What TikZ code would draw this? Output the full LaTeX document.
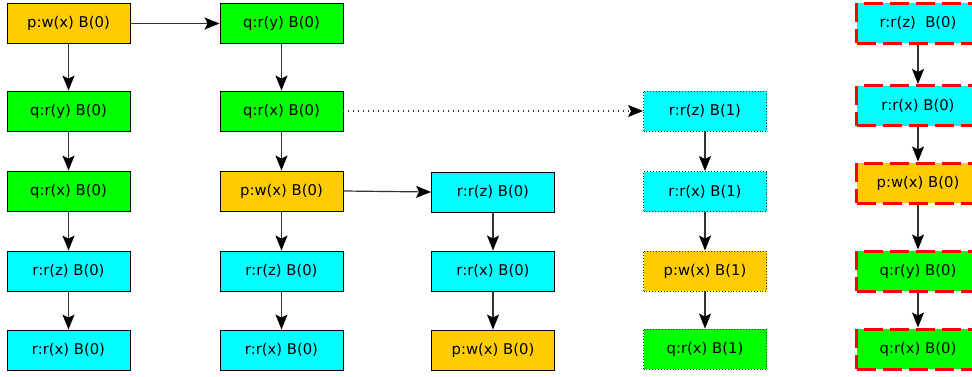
\documentclass[tikz,border=0pt]{standalone}
\usepackage{fontspec}
\setmainfont{DejaVu Sans}
\usetikzlibrary{arrows.meta}
\definecolor{wcol}{RGB}{255,204,0}
\definecolor{qcol}{RGB}{0,255,0}
\definecolor{rcol}{RGB}{0,255,255}
\definecolor{hl}{RGB}{255,0,0}
\tikzset{
  evt/.style={draw=black, line width=0.9pt, minimum width=123pt, minimum height=40pt,
    inner sep=0pt, font=\fontsize{14.8}{16}\selectfont},
  wr/.style={evt, fill=wcol},
  rq/.style={evt, fill=qcol},
  rr/.style={evt, fill=rcol},
  ghost/.style={draw=black!80, dotted, line width=0.9pt},
  flagged/.style={draw=hl, line width=3pt, dash pattern=on 19pt off 7pt},
  flow/.style={-{Stealth[length=15pt,width=12pt,inset=3pt,black,sharp]}, line width=1.2pt, draw=black!80},
}
\begin{document}
\begin{tikzpicture}[x=1pt, y=-1pt]
\useasboundingbox (0,0) rectangle (972,376);
% first execution
\node[wr] (a1) at (68.5,23.5) {p:w(x) B(0)};
\node[rq] (a2) at (68.5,111) {q:r(y) B(0)};
\node[rq] (a3) at (68.5,191) {q:r(x) B(0)};
\node[rr] (a4) at (68.5,271) {r:r(z) B(0)};
\node[rr] (a5) at (68.5,350) {r:r(x) B(0)};
% second execution
\node[rq] (b1) at (281.5,23.5) {q:r(y) B(0)};
\node[rq] (b2) at (281.5,111) {q:r(x) B(0)};
\node[wr] (b3) at (281.5,191) {p:w(x) B(0)};
\node[rr] (b4) at (281.5,271) {r:r(z) B(0)};
\node[rr] (b5) at (281.5,350) {r:r(x) B(0)};
% third execution
\node[rr] (c3) at (493,192) {r:r(z) B(0)};
\node[rr] (c4) at (493,271) {r:r(x) B(0)};
\node[wr] (c5) at (493,350) {p:w(x) B(0)};
% next round
\node[rr, ghost] (d2) at (705,111) {r:r(z) B(1)};
\node[rr, ghost] (d3) at (705,191.5) {r:r(x) B(1)};
\node[wr, ghost] (d4) at (705,271) {p:w(x) B(1)};
\node[rq, ghost] (d5) at (705,349) {q:r(x) B(1)};
% flagged execution
\node[rr, flagged] (e1) at (918,23) {r:r(z)\ \ B(0)};
\node[rr, flagged] (e2) at (918,105.5) {r:r(x) B(0)};
\node[wr, flagged] (e3) at (918,183) {p:w(x) B(0)};
\node[rq, flagged] (e4) at (918,271) {q:r(y) B(0)};
\node[rq, flagged] (e5) at (918,349) {q:r(x) B(0)};
% edges
\draw[flow] (a1) -- (b1);
\draw[flow] (a1) -- (a2);
\draw[flow] (a2) -- (a3);
\draw[flow] (a3) -- (a4);
\draw[flow] (a4) -- (a5);
\draw[flow] (b1) -- (b2);
\draw[flow] (b2) -- (b3);
\draw[flow] (b3) -- (b4);
\draw[flow] (b4) -- (b5);
\draw[flow] (b3.east) -- (c3.west);
\draw[flow] (c3) -- (c4);
\draw[flow] (c4) -- (c5);
\draw[flow, dash pattern=on 1pt off 4pt] (b2) -- (d2);
\draw[flow] (d2) -- (d3);
\draw[flow] (d3) -- (d4);
\draw[flow] (d4) -- (d5);
\draw[flow] (e1) -- (e2);
\draw[flow] (e2) -- (e3);
\draw[flow] (e3) -- (e4);
\draw[flow] (e4) -- (e5);
\end{tikzpicture}
\end{document}
